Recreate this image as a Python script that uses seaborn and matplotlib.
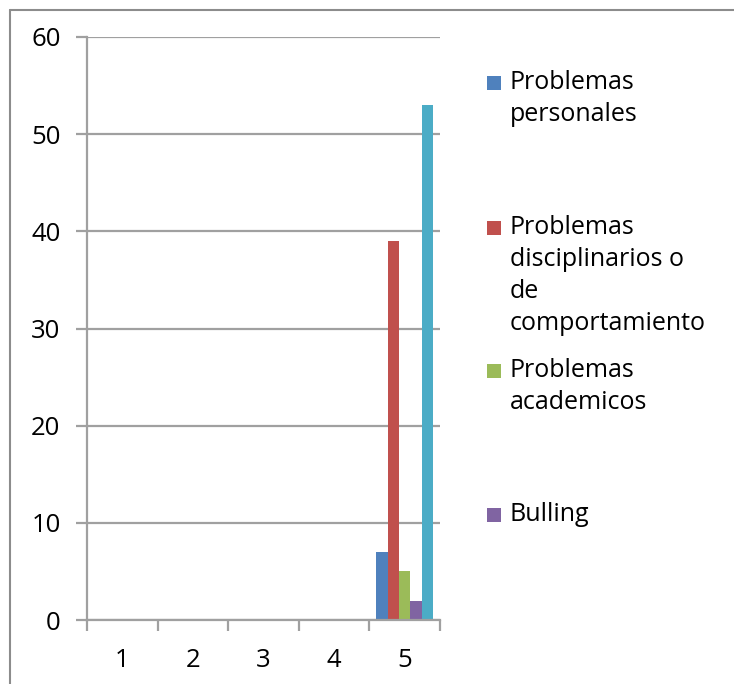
import matplotlib
matplotlib.use("Agg")
import matplotlib.pyplot as plt
import seaborn as sns
import pandas as pd
from matplotlib.patches import Rectangle
from matplotlib.lines import Line2D

categories = ["1", "2", "3", "4", "5"]
series_names = ["Problemas personales",
                "Problemas disciplinarios o de comportamiento",
                "Problemas academicos",
                "Bulling",
                "Serie 5"]
legend_labels = ["Problemas\npersonales",
                 "Problemas\ndisciplinarios o\nde\ncomportamiento",
                 "Problemas\nacademicos",
                 "Bulling"]
personales = [0, 0, 0, 0, 7]
disciplinarios = [0, 0, 0, 0, 39]
academicos = [0, 0, 0, 0, 5]
bulling = [0, 0, 0, 0, 2]
serie5 = [0, 0, 0, 0, 53]
colors = ["#4F81BD", "#C0504D", "#9BBB59", "#8064A2", "#4BACC6"]

rows = []
for name, vals in zip(series_names, [personales, disciplinarios, academicos, bulling, serie5]):
    for c, v in zip(categories, vals):
        rows.append({"cat": c, "serie": name, "valor": v})
df = pd.DataFrame(rows)

sns.set_theme(style="white")
plt.rcParams["font.family"] = ["Open Sans", "DejaVu Sans"]

fig = plt.figure(figsize=(7.34, 6.84), dpi=100)
ax = fig.add_axes([87/734, 1 - 620/684, 353/734, 583/684])

sns.barplot(data=df, x="cat", y="valor", hue="serie", palette=colors,
            order=categories, hue_order=series_names, width=0.8,
            ax=ax, legend=False, saturation=1, linewidth=0)

grid_c = "#A0A0A0"
ax.set_ylim(0, 60)
ax.set_xlim(-0.5, 4.5)
ax.set_yticks(range(0, 61, 10))
ax.yaxis.grid(True, color=grid_c, linewidth=1.6)
ax.set_axisbelow(True)
ax.set_xlabel("")
ax.set_ylabel("")
for s in ["top", "right"]:
    ax.spines[s].set_visible(False)
for s in ["left", "bottom"]:
    ax.spines[s].set_color(grid_c)
    ax.spines[s].set_linewidth(1.6)

ax.tick_params(axis="y", which="major", direction="out", length=8, width=1.6,
               color=grid_c, labelsize=18.5, pad=11, left=True, labelcolor="black")
ax.set_xticks(range(5))
ax.set_xticklabels(categories)
ax.tick_params(axis="x", which="major", length=0, labelsize=18.5, pad=20,
               labelcolor="black")
ax.set_xticks([-0.5, 0.5, 1.5, 2.5, 3.5, 4.5], minor=True)
ax.tick_params(axis="x", which="minor", direction="out", length=8, width=1.6,
               color=grid_c, bottom=True)

# manual legend (Excel-like spacing)
y_tops = [83, 228, 371, 515]
for lab, col, yt in zip(legend_labels, colors[:4], y_tops):
    fig.patches.append(Rectangle((487/734, 1 - (yt + 7)/684), 14/734, 14/684,
                                 transform=fig.transFigure, facecolor=col,
                                 edgecolor="none"))
    fig.text(510/734, 1 - (yt - 13)/684, lab, fontsize=18, va="top", ha="left",
             linespacing=1.36, color="black")

# chart frame
fig.add_artist(Line2D([10/734, 1], [1 - 10/684] * 2, transform=fig.transFigure,
                      color="#8C8C8C", linewidth=1.5))
fig.add_artist(Line2D([10/734] * 2, [0, 1 - 10/684], transform=fig.transFigure,
                      color="#8C8C8C", linewidth=1.5))

fig.savefig("out.png", dpi=100, facecolor="white")
